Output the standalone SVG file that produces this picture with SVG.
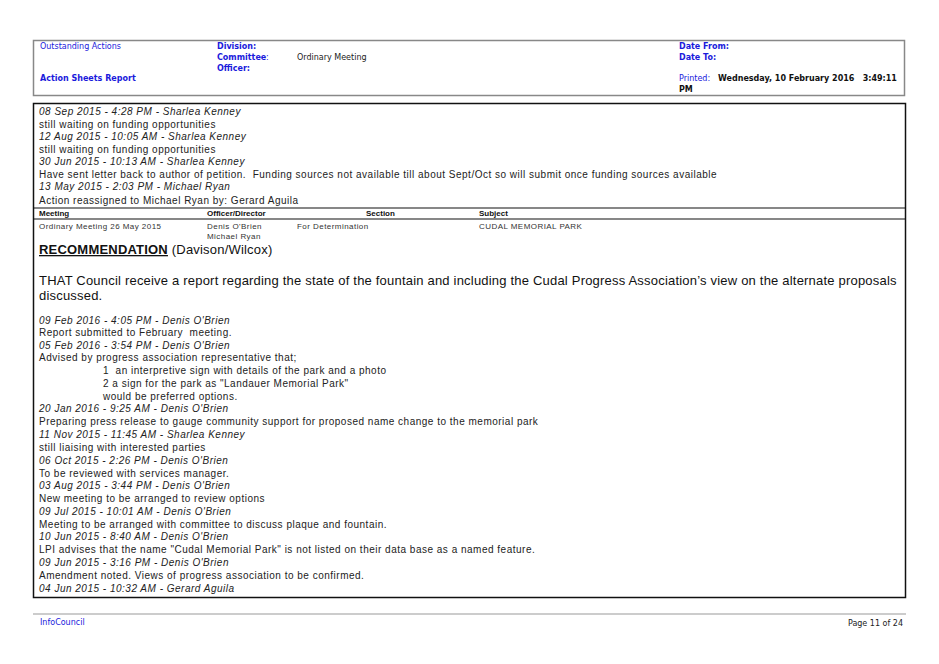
<svg xmlns="http://www.w3.org/2000/svg" width="939" height="664" viewBox="0 0 939 664">
<style>
.h{font-family:"DejaVu Sans",sans-serif;font-size:8px;fill:#1a1adc}
.hb{font-family:"DejaVu Sans",sans-serif;font-size:8px;font-weight:bold;fill:#1a1adc}
.hk{font-family:"DejaVu Sans",sans-serif;font-size:8px;fill:#222}
.hkb{font-family:"DejaVu Sans",sans-serif;font-size:8px;font-weight:bold;fill:#111}
.t{font-family:"Liberation Sans",Arial,sans-serif;font-size:10px;fill:#222;letter-spacing:0.5px}
.i{font-family:"Liberation Sans",Arial,sans-serif;font-size:10px;font-style:italic;fill:#222;letter-spacing:0.5px}
.s{font-family:"Liberation Sans",Arial,sans-serif;font-size:8px;fill:#333;letter-spacing:0.45px}
.sb{font-family:"Liberation Sans",Arial,sans-serif;font-size:8px;font-weight:bold;fill:#111}
.big{font-family:"Liberation Sans",Arial,sans-serif;font-size:13px;fill:#111;letter-spacing:0.2px}
</style>
<rect width="939" height="664" fill="#fff"/>
<g id="header">
<rect x="33.5" y="40.5" width="871" height="55" fill="none" stroke="#888" stroke-width="1.5"/>
<text x="40" y="49" class="h">Outstanding Actions</text>
<text x="40" y="81" class="hb">Action Sheets Report</text>
<text x="217" y="49" class="hb">Division:</text>
<text x="217" y="60" class="hb">Committee</text><text x="266" y="60" class="h">:</text>
<text x="217" y="71" class="hb">Officer:</text>
<text x="297" y="60" class="hk">Ordinary Meeting</text>
<text x="679" y="49" class="hb">Date From:</text>
<text x="679" y="60" class="hb">Date To:</text>
<text x="679" y="81" class="h">Printed:</text><text x="718" y="81" class="hkb" xml:space="preserve">Wednesday, 10 February 2016   3:49:11</text>
<text x="679" y="92" class="hkb">PM</text>
</g>
<g id="body">
<rect x="33.5" y="103.5" width="872" height="494" fill="none" stroke="#111" stroke-width="1.5"/>
<text x="39" y="115" class="i">08 Sep 2015 - 4:28 PM - Sharlea Kenney</text>
<text x="39" y="128" class="t">still waiting on funding opportunities</text>
<text x="39" y="140" class="i">12 Aug 2015 - 10:05 AM - Sharlea Kenney</text>
<text x="39" y="153" class="t">still waiting on funding opportunities</text>
<text x="39" y="165" class="i">30 Jun 2015 - 10:13 AM - Sharlea Kenney</text>
<text x="39" y="178" class="t" xml:space="preserve">Have sent letter back to author of petition.  Funding sources not available till about Sept/Oct so will submit once funding sources available</text>
<text x="39" y="190" class="i">13 May 2015 - 2:03 PM - Michael Ryan</text>
<text x="39" y="204" class="t">Action reassigned to Michael Ryan by: Gerard Aguila</text>
<line x1="33" y1="208" x2="906" y2="208" stroke="#111" stroke-width="1.2"/>
<line x1="33" y1="219" x2="906" y2="219" stroke="#111" stroke-width="1.2"/>
<text x="39" y="216" class="sb">Meeting</text>
<text x="207" y="216" class="sb">Officer/Director</text>
<text x="366" y="216" class="sb">Section</text>
<text x="479" y="216" class="sb">Subject</text>
<text x="39" y="229" class="s">Ordinary Meeting 26 May 2015</text>
<text x="207" y="229" class="s">Denis O'Brien</text>
<text x="207" y="239" class="s">Michael Ryan</text>
<text x="297" y="229" class="s">For Determination</text>
<text x="479" y="229" class="s">CUDAL MEMORIAL PARK</text>
<text x="39" y="254" class="big"><tspan font-weight="bold" text-decoration="underline">RECOMMENDATION</tspan> (Davison/Wilcox)</text>
<text x="39" y="285" class="big">THAT Council receive a report regarding the state of the fountain and including the Cudal Progress Association’s view on the alternate proposals</text>
<text x="39" y="300" class="big">discussed.</text>
<text x="39" y="324" class="i">09 Feb 2016 - 4:05 PM - Denis O'Brien</text>
<text x="39" y="336" class="t" xml:space="preserve">Report submitted to February  meeting.</text>
<text x="39" y="349" class="i">05 Feb 2016 - 3:54 PM - Denis O'Brien</text>
<text x="39" y="361" class="t">Advised by progress association representative that;</text>
<text x="103" y="374" class="t" xml:space="preserve">1  an interpretive sign with details of the park and a photo</text>
<text x="103" y="387" class="t">2 a sign for the park as "Landauer Memorial Park"</text>
<text x="103" y="400" class="t">would be preferred options.</text>
<text x="39" y="412" class="i">20 Jan 2016 - 9:25 AM - Denis O'Brien</text>
<text x="39" y="425" class="t">Preparing press release to gauge community support for proposed name change to the memorial park</text>
<text x="39" y="438" class="i">11 Nov 2015 - 11:45 AM - Sharlea Kenney</text>
<text x="39" y="451" class="t">still liaising with interested parties</text>
<text x="39" y="464" class="i">06 Oct 2015 - 2:26 PM - Denis O'Brien</text>
<text x="39" y="477" class="t">To be reviewed with services manager.</text>
<text x="39" y="489" class="i">03 Aug 2015 - 3:44 PM - Denis O'Brien</text>
<text x="39" y="502" class="t">New meeting to be arranged to review options</text>
<text x="39" y="515" class="i">09 Jul 2015 - 10:01 AM - Denis O'Brien</text>
<text x="39" y="528" class="t">Meeting to be arranged with committee to discuss plaque and fountain.</text>
<text x="39" y="540" class="i">10 Jun 2015 - 8:40 AM - Denis O'Brien</text>
<text x="39" y="553" class="t">LPI advises that the name "Cudal Memorial Park" is not listed on their data base as a named feature.</text>
<text x="39" y="566" class="i">09 Jun 2015 - 3:16 PM - Denis O'Brien</text>
<text x="39" y="579" class="t">Amendment noted. Views of progress association to be confirmed.</text>
<text x="39" y="592" class="i">04 Jun 2015 - 10:32 AM - Gerard Aguila</text>
</g>
<g id="footer">
<line x1="33" y1="614" x2="906" y2="614" stroke="#999" stroke-width="1"/>
<text x="40" y="625" class="h">InfoCouncil</text>
<text x="903" y="626" class="hk" text-anchor="end">Page 11 of 24</text>
</g>
</svg>
